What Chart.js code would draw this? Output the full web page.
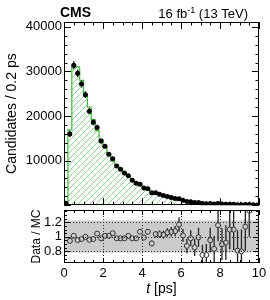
<!DOCTYPE html>
<html><head><meta charset="utf-8">
<script src="https://cdn.jsdelivr.net/npm/chart.js@4.4.0/dist/chart.umd.min.js"></script>
<style>
html,body{margin:0;padding:0;background:#fff;}
#wrap{position:relative;width:270px;height:300px;overflow:hidden;background:#fff;}
canvas{position:absolute;left:0;}
</style></head><body>
<div id="wrap">
<canvas id="top" width="270" height="215" style="top:0px"></canvas>
<canvas id="bot" width="270" height="100" style="top:200px"></canvas>
</div>
<script>
// ---- data ----
const binCenters = [0.1,0.3,0.5,0.7,0.9,1.1,1.3,1.5,1.7,1.9,2.1,2.3,2.5,2.7,2.9,3.1,3.3,3.5,3.7,3.9,
  4.1,4.3,4.5,4.7,4.9,5.1,5.3,5.5,5.7,5.9,6.1,6.3,6.5,6.7,6.9,7.1,7.3,7.5,7.7,7.9,
  8.1,8.3,8.5,8.7,8.9,9.1,9.3,9.5,9.7,9.9];
const binWidth = 0.2;
const dataCounts = [450,16000,31400,29600,27200,24800,21100,18600,17450,14400,13200,11450,10400,8800,8050,7250,6600,5600,4900,4700,
  3850,3700,2780,2800,2470,2160,1960,1730,1530,1450,1100,820,800,610,615,405,350,390,295,360,
  245,215,225,195,125,108,135,140,85,70];
const dataErrors = [100,700,900,850,800,750,700,650,600,550,500,470,450,420,400,380,350,330,310,300,
  270,260,230,230,210,200,190,175,165,160,140,120,120,105,105,85,80,85,75,80,
  65,60,62,58,48,45,50,50,40,36];
const mcCounts = [400,16900,31000,31000,28000,24800,22000,19200,16700,14700,13000,11300,9900,9000,8200,7400,6500,5700,5000,4400,
  3900,3450,3050,2700,2380,2100,1850,1620,1420,1240,1080,940,820,710,620,540,470,410,355,310,
  270,235,205,178,155,135,118,103,90,78];
const ratioValues = [null,0.945,1.014,0.955,0.97,1.0,0.96,0.97,1.045,0.98,1.014,1.014,1.05,0.98,0.98,0.98,1.014,0.98,0.98,1.07,
  0.99,1.07,0.91,1.037,1.037,1.03,1.06,1.07,1.08,1.17,1.02,0.875,0.98,0.855,0.995,0.75,0.75,0.955,0.835,1.16,
  0.9,0.92,1.1,1.1,0.81,0.8,1.14,1.36,null,null];
const ratioErrors = [0,0.012,0.01,0.01,0.01,0.012,0.012,0.013,0.014,0.015,0.016,0.017,0.018,0.02,0.021,0.022,0.024,0.026,0.028,0.032,
  0.034,0.037,0.04,0.045,0.05,0.055,0.06,0.065,0.07,0.1,0.09,0.1,0.11,0.12,0.13,0.14,0.15,0.17,0.18,0.22,
  0.22,0.24,0.27,0.28,0.28,0.3,0.33,0.36,0,0];
const xTicks = [0,2,4,6,8,10];
const yTicksTop = [10000,20000,30000,40000];
const yTicksRatio = [0.8,1,1.2];
const ratioBand = [0.785,1.225];
const ratioLines = [0.8,1.0,1.2];

// ---- styling ----
const FONT = "'Liberation Sans', Arial, Helvetica, sans-serif";
const GREEN = '#4cb84c';

function hatch(ctx){
  const n = 6;
  const c = document.createElement('canvas'); c.width = n; c.height = n;
  const g = c.getContext('2d');
  g.fillStyle = '#8fd18f';
  for (let i = 0; i < n; i++) g.fillRect(i, n-1-i, 1, 1);
  return ctx.createPattern(c,'repeat');
}

function drawFrameTicks(chart, o){
  const {ctx, chartArea:a, scales:{x,y}} = chart;
  ctx.save();
  ctx.strokeStyle = '#000'; ctx.lineWidth = 1;
  ctx.strokeRect(Math.round(a.left)+0.5, Math.round(a.top)+0.5, Math.round(a.right-a.left)-1, Math.round(a.bottom-a.top)-1);
  ctx.beginPath();
  for (let v = 0; v <= 10.0001; v += o.xMinor){
    const px = Math.round(x.getPixelForValue(v))+0.5;
    const major = Math.abs(v/2 - Math.round(v/2)) < 1e-6;
    const l = major ? o.xMaj : o.xMin;
    ctx.moveTo(px, a.top); ctx.lineTo(px, a.top+l);
    ctx.moveTo(px, a.bottom); ctx.lineTo(px, a.bottom-l);
  }
  for (let v = o.yStart; v <= o.yEnd + 1e-9; v += o.yMinor){
    const py = Math.round(y.getPixelForValue(v))+0.5;
    const major = Math.abs(v/o.yMajor - Math.round(v/o.yMajor)) < 1e-6;
    const l = major ? o.yMaj : o.yMin;
    ctx.moveTo(a.left, py); ctx.lineTo(a.left+l, py);
    ctx.moveTo(a.right, py); ctx.lineTo(a.right-l, py);
  }
  ctx.stroke();
  ctx.restore();
}

// ---- upper panel ----
const topCtx = document.getElementById('top').getContext('2d');
const mcStep = [{x:0, y:0}];
binCenters.forEach((c,i)=>mcStep.push({x:c-binWidth/2, y:mcCounts[i]}));
mcStep.push({x:binCenters[binCenters.length-1]+binWidth/2, y:mcCounts[mcCounts.length-1]});

const topPlugin = {
  id:'topDeco',
  afterDatasetsDraw(chart){
    const {ctx, chartArea:a, scales:{x,y}} = chart;
    ctx.save();
    ctx.beginPath(); ctx.rect(a.left,a.top,a.right-a.left,a.bottom-a.top+3); ctx.clip();
    ctx.strokeStyle = '#000'; ctx.lineWidth = 1.2;
    ctx.beginPath();
    binCenters.forEach((c,i)=>{
      const px = x.getPixelForValue(c);
      ctx.moveTo(px, y.getPixelForValue(dataCounts[i]-dataErrors[i]));
      ctx.lineTo(px, y.getPixelForValue(dataCounts[i]+dataErrors[i]));
    });
    ctx.stroke();
    ctx.restore();
  },
  afterDraw(chart){
    drawFrameTicks(chart, {xMinor:0.5, xMaj:7, xMin:3.5, yStart:0, yEnd:41000, yMinor:2000, yMajor:10000, yMaj:7, yMin:3.5});
    const ctx = chart.ctx;
    ctx.save();
    ctx.fillStyle = '#000';
    ctx.textBaseline = 'alphabetic';
    ctx.textAlign = 'left';
    ctx.font = 'bold 14px ' + FONT;
    ctx.fillText('CMS', 60, 17);
    const f1 = '13px ' + FONT, f2 = '9px ' + FONT;
    const p1 = '16 fb', p2 = '-1', p3 = ' (13 TeV)';
    ctx.font = f1; const w1 = ctx.measureText(p1).width, w3 = ctx.measureText(p3).width;
    ctx.font = f2; const w2 = ctx.measureText(p2).width;
    const right = 248, base = 18;
    let xx = right - (w1+w2+w3);
    ctx.font = f1; ctx.fillText(p1, xx, base); xx += w1;
    ctx.font = f2; ctx.fillText(p2, xx, base-5); xx += w2;
    ctx.font = f1; ctx.fillText(p3, xx, base);
    ctx.restore();
  }
};

new Chart(topCtx, {
  type:'line',
  data:{datasets:[
    {label:'Data', data: binCenters.map((c,i)=>({x:c, y:dataCounts[i]})), showLine:false,
     pointRadius:2.5, pointHoverRadius:2.5, pointBackgroundColor:'#000', pointBorderColor:'#000', pointBorderWidth:0, order:0},
    {label:'MC', data: mcStep, stepped:'before', borderColor:GREEN, borderWidth:1.3, pointRadius:0,
     fill:'origin', backgroundColor: hatch(topCtx), order:1}
  ]},
  options:{
    responsive:false, animation:false, devicePixelRatio:1, events:[],
    layout:{padding:{left:0,right:11,top:22,bottom:5}},
    plugins:{legend:{display:false}, tooltip:{enabled:false}},
    scales:{
      x:{type:'linear', min:0, max:10, display:false},
      y:{type:'linear', min:0, max:41100,
         afterFit:s=>{s.width=64;},
         afterBuildTicks:s=>{s.ticks = yTicksTop.map(v=>({value:v}));},
         grid:{display:false, drawTicks:false}, border:{display:false},
         ticks:{font:{family:FONT,size:13}, color:'#000', padding:2, callback:v=>String(v)},
         title:{display:true, text:'Candidates / 0.2 ps', color:'#000', font:{family:FONT,size:14}, padding:{top:3.6,bottom:0}}}
    }
  },
  plugins:[topPlugin]
});

// ---- ratio panel ----
const botCtx = document.getElementById('bot').getContext('2d');
const ratioPts = [];
binCenters.forEach((c,i)=>{ if (ratioValues[i] !== null) ratioPts.push({x:c, y:ratioValues[i]}); });
const R = 2.5;
const botPlugin = {
  id:'botDeco',
  beforeDatasetsDraw(chart){
    const {ctx, chartArea:a, scales:{x,y}} = chart;
    ctx.save();
    ctx.beginPath(); ctx.rect(a.left,a.top,a.right-a.left,a.bottom-a.top); ctx.clip();
    const yb1 = y.getPixelForValue(ratioBand[1]), yb0 = y.getPixelForValue(ratioBand[0]);
    ctx.fillStyle = '#cbcbcb';
    ctx.fillRect(a.left, yb1, a.right-a.left, yb0-yb1);
    ctx.strokeStyle = '#333'; ctx.lineWidth = 1; ctx.setLineDash([1,2]);
    ctx.beginPath();
    ratioLines.forEach(v=>{ const py = Math.round(y.getPixelForValue(v))+0.5; ctx.moveTo(a.left,py); ctx.lineTo(a.right,py); });
    xTicks.slice(1,-1).forEach(v=>{ const px = Math.round(x.getPixelForValue(v))+0.5; ctx.moveTo(px,a.top); ctx.lineTo(px,a.bottom); });
    ctx.stroke();
    ctx.setLineDash([]);
    ctx.strokeStyle = '#222'; ctx.lineWidth = 1.3;
    ctx.beginPath();
    binCenters.forEach((c,i)=>{
      if (ratioValues[i] === null) return;
      const px = x.getPixelForValue(c);
      const pc = y.getPixelForValue(ratioValues[i]);
      const pt = y.getPixelForValue(ratioValues[i]+ratioErrors[i]);
      const pb = y.getPixelForValue(ratioValues[i]-ratioErrors[i]);
      if (pc - pt > R){ ctx.moveTo(px, pc-R); ctx.lineTo(px, pt); }
      if (pb - pc > R){ ctx.moveTo(px, pc+R); ctx.lineTo(px, pb); }
    });
    ctx.stroke();
    ctx.restore();
  },
  afterDraw(chart){
    drawFrameTicks(chart, {xMinor:0.5, xMaj:5, xMin:3, yStart:0.65, yEnd:1.35, yMinor:0.05, yMajor:0.2, yMaj:6, yMin:3});
    const ctx = chart.ctx, a = chart.chartArea;
    ctx.save();
    ctx.fillStyle = '#000'; ctx.textBaseline = 'alphabetic'; ctx.textAlign = 'left';
    const fi = 'italic 14px ' + FONT, fn = '14px ' + FONT;
    ctx.font = fi; const wt = ctx.measureText('t').width;
    ctx.font = fn; const wr = ctx.measureText(' [ps]').width;
    let xx = (a.left + a.right)/2 - (wt+wr)/2;
    const base = 93;
    ctx.font = fi; ctx.fillText('t', xx, base); xx += wt;
    ctx.font = fn; ctx.fillText(' [ps]', xx, base);
    ctx.restore();
  }
};

new Chart(botCtx, {
  type:'line',
  data:{datasets:[
    {label:'Data / MC', data: ratioPts, showLine:false, pointStyle:'circle', pointRadius:R, pointHoverRadius:R,
     pointBorderColor:'#333', pointBackgroundColor:'rgba(0,0,0,0)', pointBorderWidth:1}
  ]},
  options:{
    responsive:false, animation:false, devicePixelRatio:1, events:[],
    layout:{padding:{left:0,right:11,top:10,bottom:0}},
    plugins:{legend:{display:false}, tooltip:{enabled:false}},
    scales:{
      x:{type:'linear', min:0, max:10,
         afterFit:s=>{s.height=37;},
         afterBuildTicks:s=>{s.ticks = xTicks.map(v=>({value:v}));},
         grid:{display:false, drawTicks:false}, border:{display:false},
         ticks:{font:{family:FONT,size:13}, color:'#000', padding:3, maxRotation:0, autoSkip:false, callback:v=>String(v)}},
      y:{type:'linear', min:0.64, max:1.37,
         afterFit:s=>{s.width=64;},
         afterBuildTicks:s=>{s.ticks = yTicksRatio.map(v=>({value:v}));},
         grid:{display:false, drawTicks:false}, border:{display:false},
         ticks:{font:{family:FONT,size:13}, color:'#000', padding:2, callback:v=>String(v)},
         title:{display:true, text:'Data / MC', color:'#000', font:{family:FONT,size:12}, padding:{top:29.8,bottom:0}}}
    }
  },
  plugins:[botPlugin]
});
</script>
</body></html>
